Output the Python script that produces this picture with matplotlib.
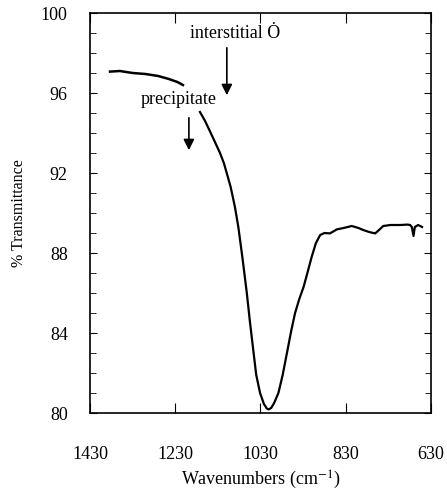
import numpy as np
import matplotlib
matplotlib.use("Agg")
import matplotlib.pyplot as plt
from matplotlib.ticker import MultipleLocator

plt.rcParams['font.family'] = ['Liberation Serif', 'DejaVu Serif']
plt.rcParams['mathtext.fontset'] = 'stix'

# spectrum (wavenumber, % transmittance)
wn_a = [1383, 1360, 1330, 1300, 1270, 1245, 1225, 1212]
tr_a = [97.07, 97.1, 97.0, 96.95, 96.85, 96.7, 96.55, 96.4]

wn_b = [1172, 1160, 1150, 1138, 1125, 1116, 1109, 1100, 1090, 1082, 1072, 1062,
        1055, 1047, 1040, 1031, 1022, 1015, 1011, 1005, 998, 988, 978, 968, 958,
        949, 939, 929, 920, 910, 900, 890, 880, 867, 851, 835, 816, 800, 789,
        775, 761, 752, 742, 725, 702, 685, 679, 675, 671, 668, 660, 651]
tr_b = [95.05, 94.6, 94.15, 93.6, 93.0, 92.5, 91.98, 91.3, 90.3, 89.3, 87.7, 85.98,
        84.6, 83.15, 81.9, 81.0, 80.45, 80.22, 80.18, 80.25, 80.5, 81.0, 81.9, 83.0, 84.1,
        84.99, 85.7, 86.3, 87.0, 87.8, 88.5, 88.9, 89.0, 88.98, 89.18, 89.25, 89.35, 89.25, 89.15,
        89.05, 88.98, 89.15, 89.35, 89.4, 89.4, 89.42, 89.4, 89.3, 88.85, 89.3, 89.4, 89.3]

fig = plt.figure(figsize=(4.47, 4.93), dpi=100)
ax = fig.add_axes([90 / 447, 80 / 493, 341 / 447, 400 / 493])

ax.plot(wn_a, tr_a, color='black', lw=1.8)
ax.plot(wn_b, tr_b, color='black', lw=1.6)

ax.set_xlim(1430, 630)
ax.set_ylim(80, 100)
ax.set_xticks([1430, 1230, 1030, 830, 630])
ax.set_yticks([80, 84, 88, 92, 96, 100])
ax.yaxis.set_minor_locator(MultipleLocator(1))
ax.tick_params(axis='both', which='both', direction='in', top=True, right=True,
               labelsize=13)
ax.tick_params(axis='x', which='major', length=7, pad=24)
ax.tick_params(axis='y', which='major', length=5, pad=16)
ax.tick_params(axis='y', which='minor', length=4)
for s in ax.spines.values():
    s.set_linewidth(1.2)

ax.set_xlabel('Wavenumbers (cm$^{-1}$)', fontsize=13, labelpad=4)
ax.set_ylabel('% Transmittance', fontsize=11.5)
ax.yaxis.set_label_coords(-0.185, 0.5)

ax.text(1090, 99.0, 'interstitial \u022e', ha='center', va='center', fontsize=13)
ax.annotate('', xy=(1109, 95.75), xytext=(1109, 98.4),
            arrowprops=dict(arrowstyle='-|>', color='black', lw=1.2,
                            mutation_scale=16))
ax.text(1223, 95.65, 'precipitate', ha='center', va='center', fontsize=13)
ax.annotate('', xy=(1198, 93.0), xytext=(1198, 94.9),
            arrowprops=dict(arrowstyle='-|>', color='black', lw=1.2,
                            mutation_scale=16))

fig.savefig('out.png', dpi=100)
